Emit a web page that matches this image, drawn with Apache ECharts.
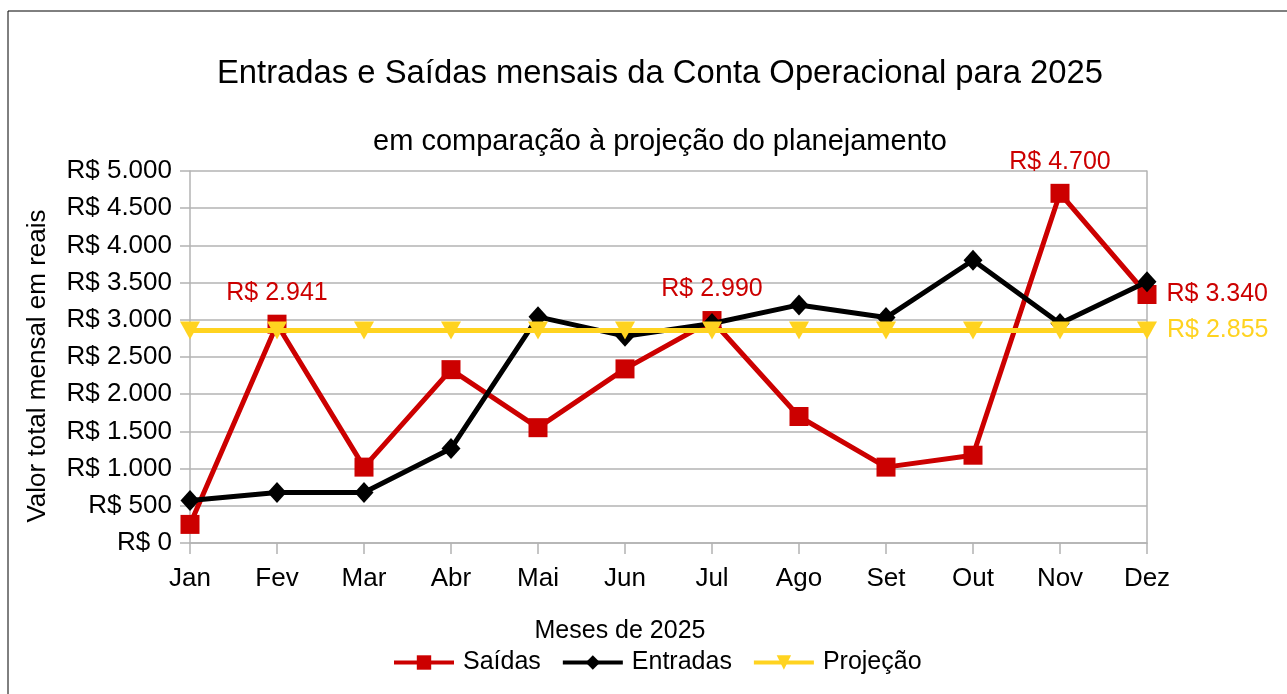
<!DOCTYPE html>
<html>
<head>
<meta charset="utf-8">
<script src="https://cdn.jsdelivr.net/npm/echarts@6/dist/echarts.min.js"></script>
<style>
  html, body { margin: 0; padding: 0; background: #fff; }
  #chart { width: 1287px; height: 694px; }
</style>
</head>
<body>
<div id="chart"></div>
<script>
// dados do gráfico
var meses = ['Jan', 'Fev', 'Mar', 'Abr', 'Mai', 'Jun', 'Jul', 'Ago', 'Set', 'Out', 'Nov', 'Dez']
var saidas = [250, 2941, 1020, 2330, 1550, 2340, 2990, 1700, 1020, 1180, 4700, 3340]
var entradas = [570, 680, 680, 1270, 3040, 2780, 2950, 3200, 3030, 3800, 2950, 3510]
var projecao = [2855, 2855, 2855, 2855, 2855, 2855, 2855, 2855, 2855, 2855, 2855, 2855]
// pontos com rótulo (índices)
var rotulosSaidasTopo = [1, 6, 10]
var rotulosSaidasDireita = [11]
var rotulosProjecaoDireita = [11]

var fonte = 'Liberation Sans, Arial, sans-serif'
var vermelho = '#cc0000'
var amarelo = '#ffd320'
var cinza = '#b3b3b3'

var reais = function (v) {
    return 'R$ ' + String(v).replace(/\B(?=(\d{3})+(?!\d))/g, '.')
}

var comRotulo = function (valores, topo, direita, cor) {
    return valores.map(function (v, i) {
        if (topo.indexOf(i) >= 0) {
            return { value: v, label: { show: true, position: 'top', distance: 9, color: cor } }
        }
        if (direita.indexOf(i) >= 0) {
            return { value: v, label: { show: true, position: 'right', distance: 10, color: cor } }
        }
        return v
    })
}

var chart = echarts.init(document.getElementById('chart'))

var option = {
    animation: false,
    textStyle: { fontFamily: fonte },
    title: [
        {
            text: 'Entradas e Saídas mensais da Conta Operacional para 2025',
            left: 655, top: 52, textAlign: 'center',
            textStyle: { fontSize: 32.8, fontWeight: 'normal', color: '#000', fontFamily: fonte }
        },
        {
            text: 'em comparação à projeção do planejamento',
            left: 655, top: 122, textAlign: 'center',
            textStyle: { fontSize: 29, fontWeight: 'normal', color: '#000', fontFamily: fonte }
        }
    ],
    legend: {
        bottom: 19,
        left: 392,
        padding: 0,
        itemWidth: 60,
        itemHeight: 18,
        itemGap: 20,
        lineStyle: { width: 4 },
        textStyle: { fontSize: 25, color: '#000', fontFamily: fonte, padding: [0, 0, 0, 4] },
        data: ['Saídas', 'Entradas', 'Projeção']
    },
    grid: { left: 190, right: 140, top: 171, bottom: 151 },
    graphic: [
        {
            type: 'rect', shape: { x: 8, y: 11, width: 1400, height: 800 },
            style: { fill: null, stroke: '#000', lineWidth: 1 }, silent: true
        },
        {
            type: 'text', x: 38, y: 366, rotation: Math.PI / 2,
            style: { text: 'Valor total mensal em reais', fontSize: 26, fontFamily: fonte, fill: '#000', textAlign: 'center', textVerticalAlign: 'middle' }
        },
        {
            type: 'text', x: 620, y: 631,
            style: { text: 'Meses de 2025', fontSize: 25, fontFamily: fonte, fill: '#000', textAlign: 'center', textVerticalAlign: 'middle' }
        }
    ],
    xAxis: {
        type: 'category',
        boundaryGap: false,
        data: meses,
        axisLine: { lineStyle: { color: cinza, width: 1.5 } },
        axisTick: { show: true, length: 11, lineStyle: { color: cinza, width: 1.5 } },
        axisLabel: { fontSize: 26, color: '#000', margin: 23 }
    },
    yAxis: [
        {
            type: 'value',
            min: 0, max: 5000, interval: 500,
            axisLine: { show: true, lineStyle: { color: cinza, width: 1.5 } },
            axisTick: { show: true, length: 10, lineStyle: { color: cinza, width: 1.5 } },
            axisLabel: { fontSize: 26, color: '#000', margin: 18, formatter: reais },
            splitLine: { lineStyle: { color: cinza, width: 1.5 } }
        },
        {
            type: 'value',
            position: 'right',
            min: 0, max: 5000, interval: 500,
            axisLine: { show: true, lineStyle: { color: cinza, width: 1.5 } },
            axisTick: { show: false },
            axisLabel: { show: false },
            splitLine: { show: false }
        }
    ],
    series: [
        {
            name: 'Saídas',
            type: 'line',
            data: comRotulo(saidas, rotulosSaidasTopo, rotulosSaidasDireita, vermelho),
            symbol: 'rect',
            symbolSize: 19,
            lineStyle: { color: vermelho, width: 5 },
            itemStyle: { color: vermelho },
            label: { fontSize: 25, formatter: function (p) { return reais(p.value) } },
            z: 2
        },
        {
            name: 'Entradas',
            type: 'line',
            data: entradas,
            symbol: 'diamond',
            symbolSize: [19, 21],
            lineStyle: { color: '#000', width: 5 },
            itemStyle: { color: '#000' },
            z: 3
        },
        {
            name: 'Projeção',
            type: 'line',
            data: comRotulo(projecao, [], rotulosProjecaoDireita, amarelo),
            symbol: 'triangle',
            symbolRotate: 180,
            symbolSize: [20, 18],
            lineStyle: { color: amarelo, width: 5 },
            itemStyle: { color: amarelo },
            label: { fontSize: 25, formatter: function (p) { return reais(p.value) } },
            z: 4
        }
    ]
}

chart.setOption(option)
</script>
</body>
</html>
